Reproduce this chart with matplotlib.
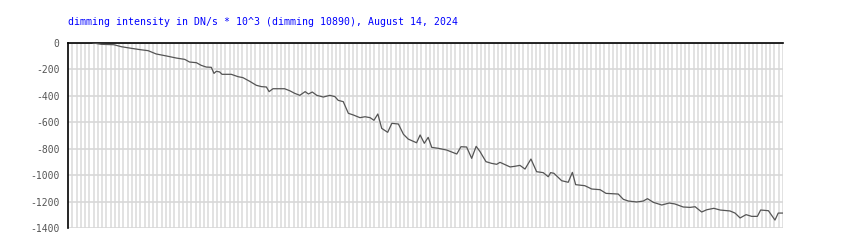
import numpy as np
import matplotlib.pyplot as plt

# dimming curve (x = hours of the day, y = DN/s * 10^3)
hours = [0.84, 1.12, 1.54, 1.79, 2.12, 2.41, 2.69, 2.96, 3.30, 3.64, 3.92, 4.08,
         4.31, 4.47, 4.64, 4.81, 4.90, 4.98, 5.09, 5.17, 5.48, 5.71, 5.87, 6.10,
         6.32, 6.49, 6.66, 6.75, 6.88, 7.27, 7.44, 7.61, 7.78, 7.96, 8.07, 8.20,
         8.35, 8.57, 8.79, 8.96, 9.07, 9.24, 9.41, 9.58, 9.80, 9.97, 10.14, 10.27,
         10.40, 10.53, 10.73, 10.87, 11.09, 11.26, 11.42, 11.70, 11.82, 11.96, 12.09, 12.21,
         12.43, 12.71, 13.05, 13.19, 13.38, 13.55, 13.70, 13.83, 14.03, 14.22, 14.39, 14.50,
         14.84, 15.00, 15.17, 15.34, 15.54, 15.73, 15.95, 16.12, 16.20, 16.31, 16.57, 16.79,
         16.93, 17.04, 17.35, 17.58, 17.86, 18.06, 18.47, 18.64, 18.81, 19.09, 19.31, 19.45,
         19.65, 19.93, 20.18, 20.37, 20.65, 20.88, 21.05, 21.27, 21.44, 21.68, 21.89, 22.22,
         22.39, 22.56, 22.76, 22.95, 23.14, 23.25, 23.51, 23.73, 23.84, 23.99]
dimming = [0, -10, -13, -28, -40, -50, -58, -83, -98, -114, -124, -144,
           -149, -169, -182, -184, -230, -214, -219, -237, -237, -255, -262, -290,
           -320, -330, -333, -368, -346, -346, -361, -381, -396, -368, -386, -371,
           -396, -409, -396, -406, -434, -444, -532, -545, -565, -558, -565, -585,
           -537, -646, -676, -608, -613, -691, -727, -755, -696, -759, -714, -790,
           -797, -810, -840, -785, -787, -873, -782, -822, -898, -911, -918, -903,
           -938, -933, -926, -954, -878, -974, -981, -1012, -981, -986, -1042, -1054,
           -979, -1072, -1080, -1105, -1110, -1138, -1143, -1183, -1196, -1203, -1196, -1178,
           -1206, -1226, -1211, -1218, -1241, -1244, -1239, -1279, -1262, -1251, -1264, -1271,
           -1287, -1324, -1299, -1312, -1312, -1264, -1269, -1340, -1287, -1287]

yticks = [0, -200, -400, -600, -800, -1000, -1200, -1400]
title = "dimming intensity in DN/s * 10^3 (dimming 10890), August 14, 2024"

plt.rcParams['font.family'] = ['DejaVu Sans Mono']
plt.rcParams['axes.unicode_minus'] = False

fig = plt.figure(figsize=(8.52, 2.5), dpi=100)
ax = fig.add_axes([68/852, 1 - 228/250, 715/852, 185/250])

ax.plot(hours, dimming, color='#555555', lw=0.9, zorder=3)

ax.set_xlim(0, 24)
ax.set_ylim(-1400, 0)
ax.set_yticks(yticks)
ax.set_xticks(np.arange(1, 169) * 24 / 168, minor=True)
ax.set_xticks([])
ax.grid(True, which='minor', axis='x', color='#dadada', lw=1.1)
ax.grid(True, which='major', axis='y', color='#d8d8d8', lw=1.2)

ax.tick_params(axis='y', length=0, pad=6, labelsize=7, labelcolor='#555555')
ax.tick_params(axis='x', which='both', length=0)

for side in ['bottom', 'right']:
    ax.spines[side].set_visible(False)
for side in ['left', 'top']:
    ax.spines[side].set_color('black')
    ax.spines[side].set_linewidth(1.2)

fig.text(68/852, 1 - 22/250, title, color='#0000ff', fontsize=7.15, va='center', ha='left')

fig.savefig('out.png', dpi=100)
